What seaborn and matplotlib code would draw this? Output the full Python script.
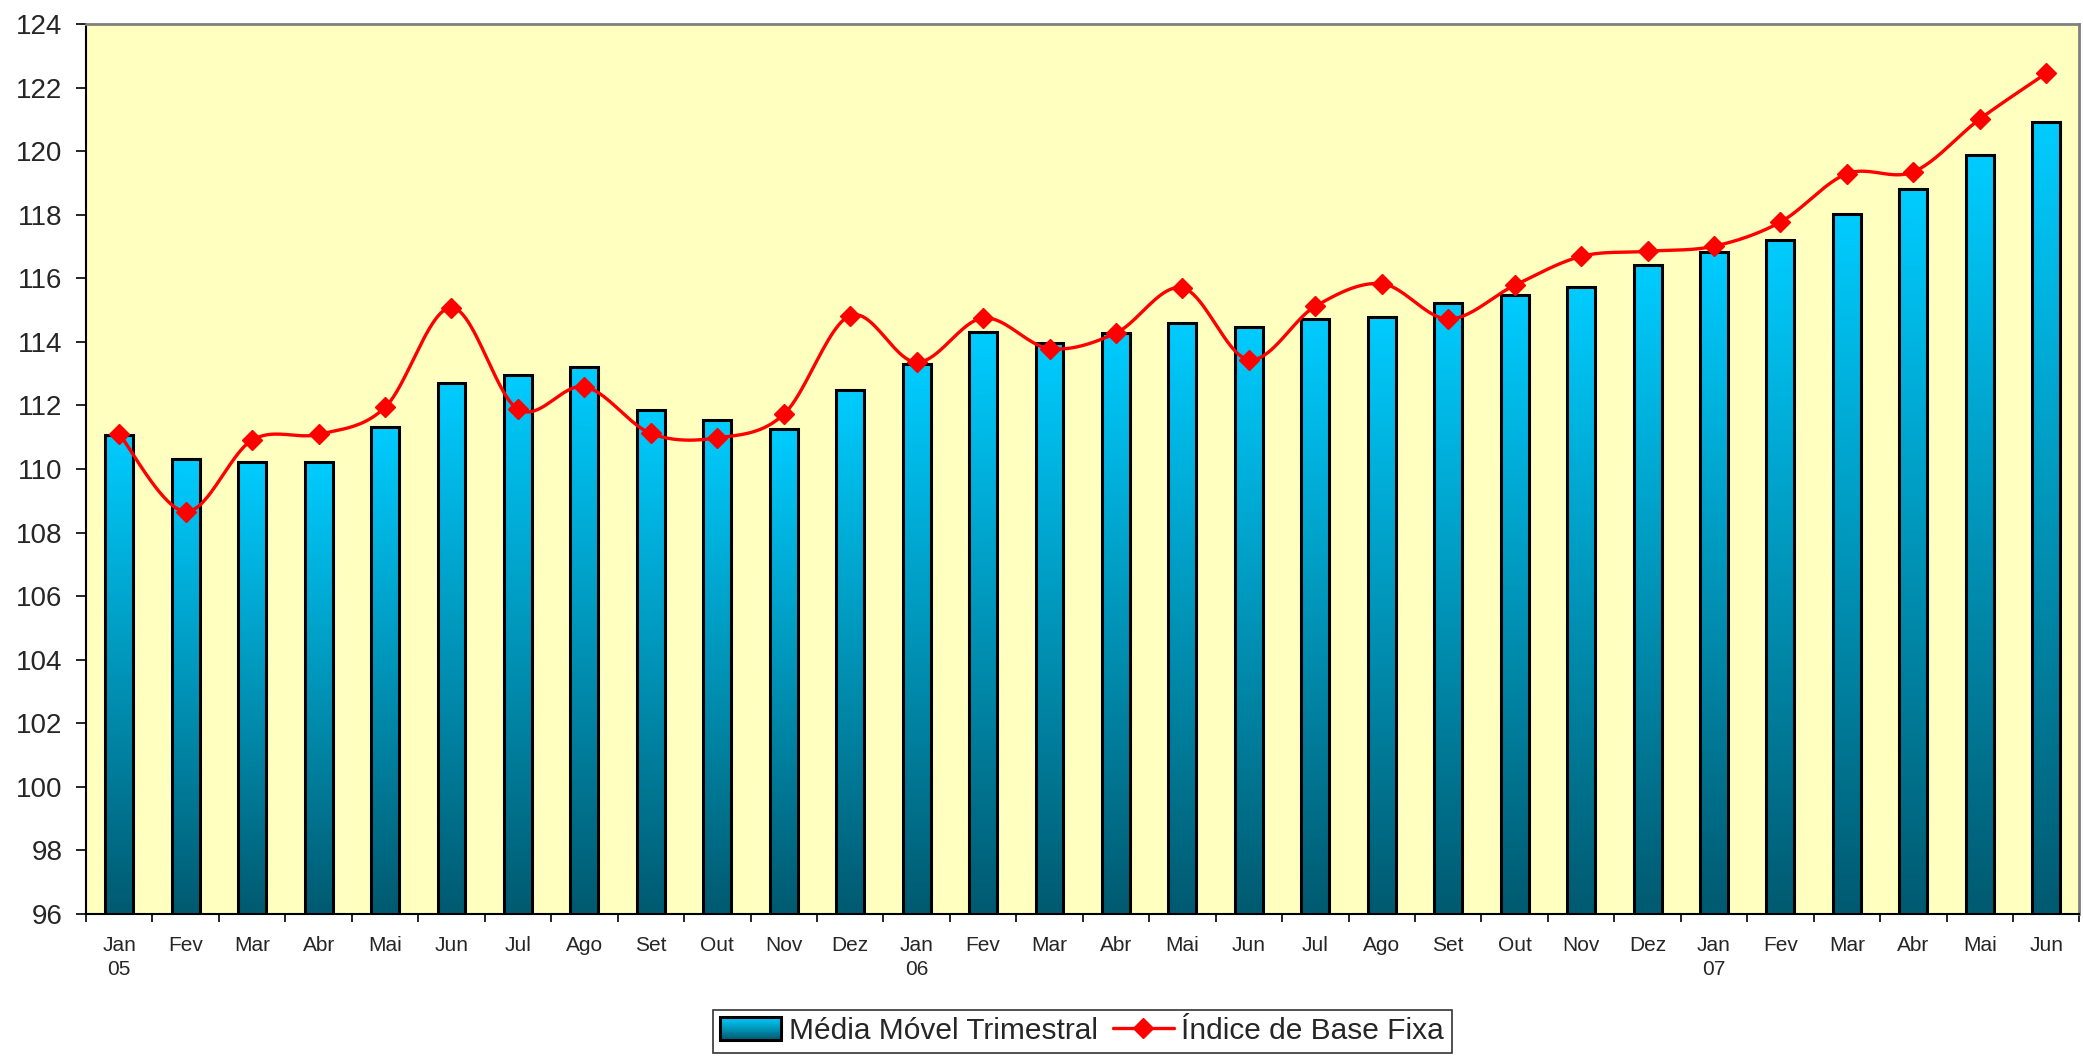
import numpy as np
import pandas as pd
import matplotlib
matplotlib.use("Agg")
import matplotlib.pyplot as plt
import seaborn as sns
from matplotlib.colors import LinearSegmentedColormap
from matplotlib.patches import Rectangle
from matplotlib.lines import Line2D
from matplotlib.legend_handler import HandlerBase

# ---- data ----
months = ["Jan\n05", "Fev", "Mar", "Abr", "Mai", "Jun", "Jul", "Ago", "Set", "Out", "Nov", "Dez",
          "Jan\n06", "Fev", "Mar", "Abr", "Mai", "Jun", "Jul", "Ago", "Set", "Out", "Nov", "Dez",
          "Jan\n07", "Fev", "Mar", "Abr", "Mai", "Jun"]

media_movel = [111.07, 110.31, 110.23, 110.23, 111.31, 112.70, 112.97, 113.20, 111.86, 111.54,
               111.26, 112.50, 113.29, 114.30, 113.97, 114.28, 114.60, 114.47, 114.72, 114.79,
               115.23, 115.46, 115.73, 116.42, 116.84, 117.20, 118.02, 118.80, 119.87, 120.93]

indice_base = [111.10, 108.66, 110.91, 111.09, 111.94, 115.08, 111.88, 112.59, 111.12, 110.98,
               111.72, 114.83, 113.36, 114.75, 113.79, 114.28, 115.70, 113.44, 115.12, 115.83,
               114.72, 115.78, 116.69, 116.85, 117.01, 117.77, 119.29, 119.35, 121.01, 122.45]

y_ticks = list(range(96, 125, 2))

df = pd.DataFrame({"pos": np.arange(len(months)), "media": media_movel, "indice": indice_base})

YMIN, YMAX = 96, 124
grad = LinearSegmentedColormap.from_list("grad", ["#005A70", "#0094B8", "#00CCFF"])


def smooth_curve(x, y, n=24):
    # Excel-like smoothed line (cubic Bezier through the points)
    pts = np.column_stack([x, y]).astype(float)
    out = []
    for i in range(len(pts) - 1):
        p0 = pts[i - 1] if i > 0 else pts[i]
        p1, p2 = pts[i], pts[i + 1]
        p3 = pts[i + 2] if i + 2 < len(pts) else pts[i + 1]
        b1 = p1 + (p2 - p0) / 6.0
        b2 = p2 - (p3 - p1) / 6.0
        t = np.linspace(0, 1, n, endpoint=False)[:, None]
        seg = ((1 - t) ** 3) * p1 + 3 * ((1 - t) ** 2) * t * b1 + 3 * (1 - t) * t ** 2 * b2 + t ** 3 * p2
        out.append(seg)
    out.append(pts[-1:])
    out = np.vstack(out)
    return out[:, 0], out[:, 1]


class GradientHandler(HandlerBase):
    def create_artists(self, legend, orig_handle, xdescent, ydescent, width, height, fontsize, trans):
        arts = []
        n = 24
        for i in range(n):
            r = Rectangle((-xdescent, -ydescent + height * i / n), width, height / n + 0.3,
                          facecolor=grad((i + 0.5) / n), edgecolor="none", transform=trans)
            arts.append(r)
        arts.append(Rectangle((-xdescent, -ydescent), width, height, facecolor="none",
                              edgecolor="black", linewidth=2.2, transform=trans))
        return arts


sns.set_style("white")
plt.rcParams["font.family"] = ["Liberation Sans", "DejaVu Sans"]

fig = plt.figure(figsize=(20.83, 10.59), dpi=100)
ax = fig.add_axes([0.0413, 0.1369, 0.957, 0.8404])
ax.set_facecolor("#FFFFC0")

sns.barplot(data=df, x="pos", y="media", width=0.42, color="#00CCFF",
            edgecolor="black", linewidth=2.2, ax=ax, zorder=3)

# gradient fill for each bar
for p in ax.patches:
    x0 = p.get_x()
    w = p.get_width()
    h = p.get_height()
    ax.imshow(np.linspace(0, 1, 256).reshape(-1, 1), cmap=grad, origin="lower",
              extent=[x0, x0 + w, YMIN, h], aspect="auto", zorder=2)
    p.set_facecolor("none")

# smoothed index line with diamond markers
sx, sy = smooth_curve(df["pos"], df["indice"])
ax.plot(sx, sy, color="#FF0000", linewidth=2.4, zorder=4)
ax.plot(df["pos"], df["indice"], linestyle="none", marker="D", markersize=10,
        color="#FF0000", zorder=5)

ax.set_xlim(-0.5, len(months) - 0.5)
ax.set_ylim(YMIN, YMAX)
ax.set_xlabel("")
ax.set_ylabel("")

ax.set_yticks(y_ticks)
ax.set_yticklabels([str(v) for v in y_ticks], fontsize=20)
ax.tick_params(axis="y", direction="out", length=7, width=1.2, color="black", pad=10, left=True)

ax.set_xticks(np.arange(len(months)))
ax.set_xticklabels(months, fontsize=15, linespacing=1.3)
ax.set_xticks(np.arange(-0.5, len(months), 1), minor=True)
ax.tick_params(axis="x", which="major", length=0, pad=16)
ax.tick_params(axis="x", which="minor", direction="out", length=6, width=1.2, color="black", bottom=True)

for side in ["left", "bottom"]:
    ax.spines[side].set_color("black")
    ax.spines[side].set_linewidth(1.5)
for side in ["top", "right"]:
    ax.spines[side].set_visible(True)
    ax.spines[side].set_color("#808080")
    ax.spines[side].set_linewidth(2)

bar_handle = Rectangle((0, 0), 1, 1)
line_handle = Line2D([], [], color="#FF0000", linewidth=2.4, marker="D", markersize=10)
leg = fig.legend([bar_handle, line_handle], ["Média Móvel Trimestral", "Índice de Base Fixa"],
                 handler_map={Rectangle: GradientHandler()},
                 loc="center", bbox_to_anchor=(0.5195, 0.0264), ncol=2, fontsize=21.5,
                 frameon=True, fancybox=False, shadow=False, handlelength=2.05, handleheight=0.8,
                 columnspacing=0.5, handletextpad=0.25, borderpad=0.25, borderaxespad=0)
leg.get_frame().set_edgecolor("black")
leg.get_frame().set_linewidth(1.2)

fig.savefig("out.png", dpi=100, facecolor="white")
plt.close(fig)
